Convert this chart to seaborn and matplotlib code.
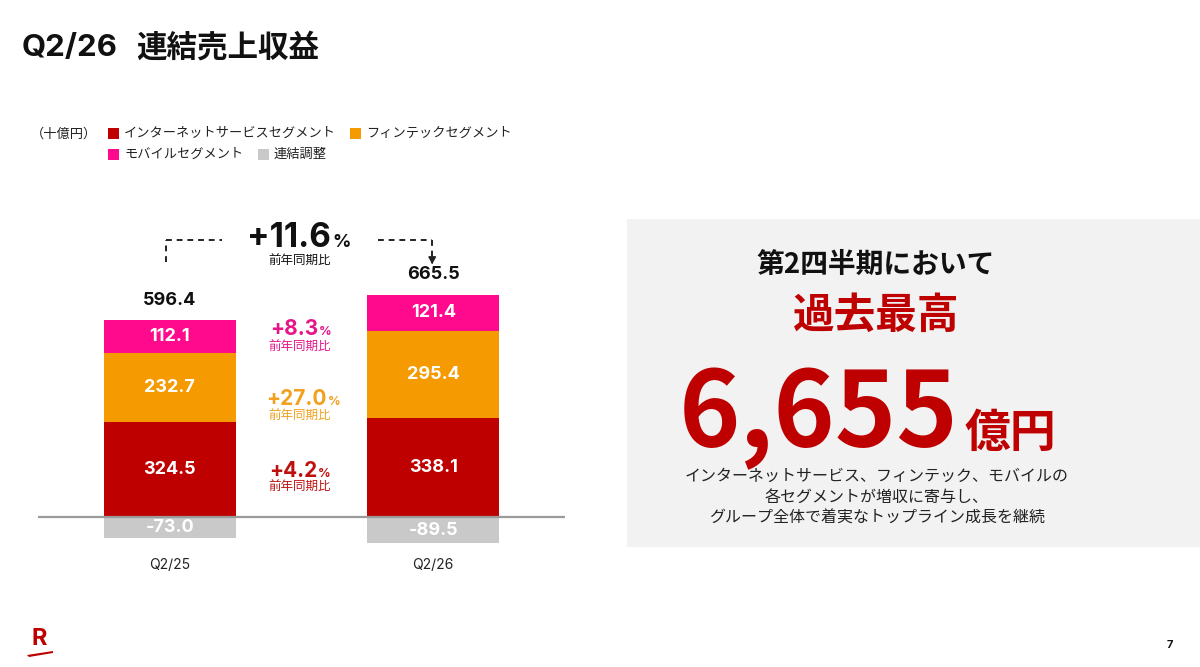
import matplotlib.pyplot as plt
import pandas as pd
import seaborn as sns
from matplotlib.patches import Polygon, Rectangle

sns.set_style("white")
plt.rcParams["font.family"] = ["Inter", "Noto Sans CJK JP", "DejaVu Sans"]

# --- data (十億円) ---
QUARTERS = ["Q2/25", "Q2/26"]
INTERNET = [324.5, 338.1]
FINTECH = [232.7, 295.4]
MOBILE = [112.1, 121.4]
ADJUSTMENT = [-73.0, -89.5]
TOTALS = [596.4, 665.5]
TOTAL_GROWTH = 11.6
MOBILE_GROWTH = 8.3
FINTECH_GROWTH = 27.0
INTERNET_GROWTH = 4.2

RED = "#BF0000"
ORANGE = "#F59A00"
PINK = "#FF0A8C"
GRAY = "#C9C9C9"

W, H = 1200, 667
PPU = 0.294  # pixels per unit
ZERO_PX = 517
YLO, YHI = -200, 1250


def fx(x):
    return x / W


def fy(y):
    return 1 - y / H


fig = plt.figure(figsize=(12, 6.67), dpi=100)
fig.patch.set_facecolor("white")

bottom_px = ZERO_PX - YLO * PPU
ax_h = (YHI - YLO) * PPU
ax = fig.add_axes([fx(38), fy(bottom_px), (565 - 38) / W, ax_h / H])

df = pd.DataFrame(
    {
        "quarter": QUARTERS,
        "internet": INTERNET,
        "fintech": FINTECH,
        "mobile": MOBILE,
        "adjustment": ADJUSTMENT,
    }
)
df["cum_fintech"] = df["internet"] + df["fintech"]
df["cum_mobile"] = df["cum_fintech"] + df["mobile"]

# stacked bars: draw tallest cumulative first, then overdraw
for col, color in [
    ("cum_mobile", PINK),
    ("cum_fintech", ORANGE),
    ("internet", RED),
    ("adjustment", GRAY),
]:
    sns.barplot(
        data=df, x="quarter", y=col, color=color, width=0.5,
        errorbar=None, saturation=1, linewidth=0, ax=ax,
    )

ax.axhline(0, color="#9A9A9A", lw=1.6, zorder=5)
ax.set_xlim(-0.5, 1.5)
ax.set_ylim(YLO, YHI)
ax.axis("off")

# segment labels
lab = dict(ha="center", va="center", color="white", fontsize=13, fontweight="bold", zorder=6)
for i, row in df.iterrows():
    ax.text(i, row["internet"] / 2, f"{row['internet']:.1f}", **lab)
    ax.text(i, row["internet"] + row["fintech"] / 2, f"{row['fintech']:.1f}", **lab)
    ax.text(i, row["cum_fintech"] + row["mobile"] / 2, f"{row['mobile']:.1f}", **lab)
    ax.text(i, row["adjustment"] / 2, f"{row['adjustment']:.1f}", **lab)
    ax.annotate(
        f"{TOTALS[i]:.1f}", (i, row["cum_mobile"]), xytext=(0, 14.5),
        textcoords="offset points", ha="center", va="center",
        fontsize=13, fontweight="bold", color="#111111",
    )
    ax.text(i, -(565 - ZERO_PX) / PPU, row["quarter"], ha="center", va="center",
            fontsize=10, color="#222222")

# growth bracket
y_lo = (ZERO_PX - 262) / PPU
y_hi = (ZERO_PX - 240) / PPU
dash = dict(color="#222222", lw=1.4, ls=(0, (3, 2.5)))
ax.plot([-0.015, -0.015], [y_lo, y_hi], **dash)
ax.plot([-0.015, 0.2], [y_hi, y_hi], **dash)
ax.plot([0.79, 0.996], [y_hi, y_hi], **dash)
ax.plot([0.996, 0.996], [y_hi, y_lo + 10], **dash)
ax.annotate("", xy=(0.996, (ZERO_PX - 267) / PPU), xytext=(0.996, y_lo + 12),
            arrowprops=dict(arrowstyle="-|>,head_width=0.22,head_length=0.4",
                            color="#222222", lw=1.2))


def growth(split_x, base_y, value, color, num_size, pct_size, sub_y):
    fig.text(fx(split_x), fy(base_y), f"+{value:.1f}", ha="right", va="baseline",
             fontsize=num_size, fontweight="bold", color=color)
    fig.text(fx(split_x + 1), fy(base_y), "%", ha="left", va="baseline",
             fontsize=pct_size, fontweight="bold", color=color)
    fig.text(fx(300), fy(sub_y), "前年同期比", ha="center", va="center",
             fontsize=9, color=color)


growth(331, 247, TOTAL_GROWTH, "#111111", 24, 13, 262)
growth(318, 335, MOBILE_GROWTH, "#E8148A", 15, 9, 348)
growth(327, 405, FINTECH_GROWTH, "#F2A01E", 15, 9, 417)
growth(317, 477, INTERNET_GROWTH, "#BF1010", 15, 9, 488)

# title
fig.text(fx(22), fy(48), "Q2/26", ha="left", va="center",
         fontsize=22.5, fontweight="bold", color="#111111")
fig.text(fx(136), fy(48), "連結売上収益", ha="left", va="center",
         fontsize=22, fontweight="bold", color="#111111",
         family=["Noto Sans CJK JP"])

# legend
fig.text(fx(31), fy(134), "（十億円）", ha="left", va="center", fontsize=9.5, color="#222222")
legend_items = [
    (108, 134, RED, "インターネットサービスセグメント"),
    (350, 134, ORANGE, "フィンテックセグメント"),
    (108, 155, PINK, "モバイルセグメント"),
    (258, 155, GRAY, "連結調整"),
]
for x, y, color, text in legend_items:
    fig.add_artist(Rectangle((fx(x), fy(y + 5)), 11 / W, 11 / H, transform=fig.transFigure,
                             facecolor=color, edgecolor="none"))
    fig.text(fx(x + 16), fy(y), text, ha="left", va="center", fontsize=9.5, color="#222222")

# right panel
fig.add_artist(Rectangle((fx(627), fy(547)), (W - 627) / W, (547 - 219) / H,
                         transform=fig.transFigure, facecolor="#F2F2F2",
                         edgecolor="none", zorder=0))
fig.text(fx(876), fy(265), "第2四半期において", ha="center", va="center",
         fontsize=20, fontweight="bold", color="#111111",
         family=["Noto Sans CJK JP"])
fig.text(fx(876), fy(316), "過去最高", ha="center", va="center",
         fontsize=30, fontweight="bold", color=RED)
fig.text(fx(959), fy(447), f"{TOTALS[1] * 10:,.0f}", ha="right", va="baseline",
         fontsize=75, fontweight="bold", color=RED, family=["Noto Sans CJK JP"])
fig.text(fx(965), fy(447), "億円", ha="left", va="baseline",
         fontsize=33, fontweight="bold", color=RED)
body = [
    "インターネットサービス、フィンテック、モバイルの",
    "各セグメントが増収に寄与し、",
    "グループ全体で着実なトップライン成長を継続",
]
for y, line in zip([476, 497, 518], body):
    fig.text(fx(877), fy(y), line, ha="center", va="center", fontsize=11.5, color="#222222")

# footer
fig.text(fx(1170), fy(645), "7", ha="center", va="center", fontsize=8,
         fontweight="bold", color="#111111")
fig.text(fx(39), fy(639), "R", ha="center", va="center", fontsize=17,
         fontweight="bold", color=RED)
fig.add_artist(Polygon([(fx(27), fy(655)), (fx(53), fy(651)), (fx(53), fy(653)),
                        (fx(29), fy(657))], closed=True, transform=fig.transFigure,
                       facecolor=RED, edgecolor="none"))

fig.savefig("out.png", dpi=100)
